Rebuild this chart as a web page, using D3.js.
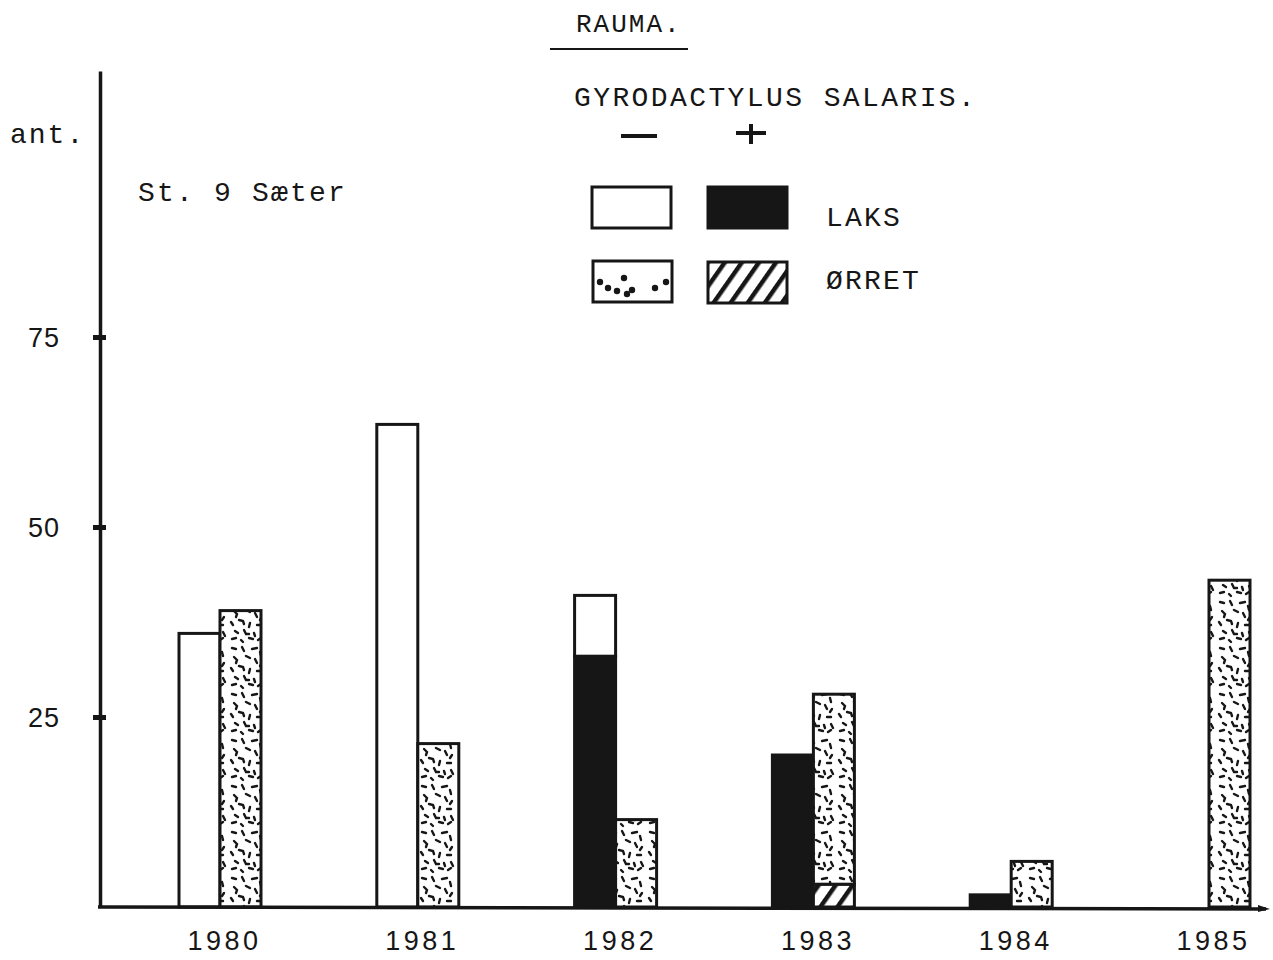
<!DOCTYPE html>
<html>
<head>
<meta charset="utf-8">
<script src="https://cdn.jsdelivr.net/npm/d3@7/dist/d3.min.js"></script>
<style>
  html, body { margin: 0; padding: 0; background: #fff; }
  svg { display: block; }
  .mono { font-family: "Liberation Mono", "DejaVu Sans Mono", monospace; fill: #161616; }
  .sans { font-family: "Liberation Sans", "DejaVu Sans", sans-serif; fill: #161616; }
</style>
</head>
<body>
<svg id="chart" width="1273" height="960"></svg>
<script>
// ---- data ----
const years = ["1980", "1981", "1982", "1983", "1984", "1985"];
const laksMinus  = [36, 63.5, 8, 0, 0, 0];     // Laks, Gyrodactylus salaris −  (white)
const laksPlus   = [0, 0, 33, 20, 1.6, 0];     // Laks, Gyrodactylus salaris +  (black)
const orretMinus = [39, 21.5, 11.5, 25, 6, 43];// Ørret, Gyrodactylus salaris − (speckled)
const orretPlus  = [0, 0, 0, 3, 0, 0];         // Ørret, Gyrodactylus salaris + (hatched)
const yTicks = [25, 50, 75];
const title = "RAUMA.";
const station = "St. 9 Sæter";
const yLabel = "ant.";
const legendTitle = "GYRODACTYLUS SALARIS.";
const legendRows = ["LAKS", "ØRRET"];

const ink = "#161616";
const svg = d3.select("#chart");

// ---- patterns ----
const defs = svg.append("defs");
const speck = defs.append("pattern").attr("id", "speck")
  .attr("patternUnits", "userSpaceOnUse").attr("width", 38).attr("height", 46);
speck.append("rect").attr("width", 38).attr("height", 46).attr("fill", "#fff");
const speckPaths = [
  "M4,4 l4,1", "M14,3 l2,4", "M24,5 l5,-1", "M32,8 l1,4",
  "M6,13 l3,3 l-1,3", "M18,12 l4,2", "M27,15 l2,4", "M34,19 l-2,3",
  "M3,24 l2,3", "M11,22 l4,1 l1,3", "M22,25 l-1,4", "M29,27 l4,0",
  "M7,33 l3,2", "M16,32 l2,4 l3,0", "M26,35 l1,3", "M33,34 l2,4",
  "M4,41 l4,-1", "M13,42 l2,2", "M21,40 l4,1", "M30,42 l3,-2"
];
speck.selectAll("path").data(speckPaths).join("path")
  .attr("d", d => d).attr("stroke", ink).attr("stroke-width", 2.4)
  .attr("stroke-linecap", "round").attr("fill", "none");

const hatch = defs.append("pattern").attr("id", "hatch")
  .attr("patternUnits", "userSpaceOnUse").attr("width", 14).attr("height", 14)
  .attr("patternTransform", "rotate(35)");
hatch.append("rect").attr("width", 14).attr("height", 14).attr("fill", "#fff");
hatch.append("line").attr("x1", 0).attr("y1", 0).attr("x2", 0).attr("y2", 14)
  .attr("stroke", ink).attr("stroke-width", 9);

const dots = defs.append("pattern").attr("id", "dots")
  .attr("patternUnits", "userSpaceOnUse").attr("width", 80).attr("height", 44);
dots.append("rect").attr("width", 80).attr("height", 44).attr("fill", "#fff");
[[15,24],[26,18],[40,18],[48,24],[64,14],[57,27],[72,26],[67,30]].forEach(([cx,cy]) =>
  dots.append("circle").attr("cx", cx).attr("cy", cy).attr("r", 3.2).attr("fill", ink));

// ---- scales ----
const y = d3.scaleLinear().domain([0, 110]).range([907, 71]);
const x0 = d3.scalePoint().domain(years).range([220, 1209]);
const xs = d3.scaleBand().domain(["laks", "orret"]).range([-41, 41]);

// ---- segments ----
const segs = [];
years.forEach((yr, i) => {
  segs.push({ yr, s: "laks", lo: 0, hi: laksPlus[i], fill: ink });
  segs.push({ yr, s: "laks", lo: laksPlus[i], hi: laksPlus[i] + laksMinus[i], fill: "#fff" });
  segs.push({ yr, s: "orret", lo: 0, hi: orretPlus[i], fill: "url(#hatch)" });
  segs.push({ yr, s: "orret", lo: orretPlus[i], hi: orretPlus[i] + orretMinus[i], fill: "url(#speck)" });
});
svg.append("g").selectAll("rect").data(segs.filter(d => d.hi > d.lo)).join("rect")
  .attr("x", d => x0(d.yr) + xs(d.s))
  .attr("width", xs.bandwidth())
  .attr("y", d => y(d.hi))
  .attr("height", d => y(d.lo) - y(d.hi))
  .attr("fill", d => d.fill)
  .attr("stroke", ink).attr("stroke-width", 3);

// ---- axes ----
const yAxis = svg.append("g").attr("transform", "translate(100,0)")
  .call(d3.axisLeft(y).tickValues(yTicks).tickSizeInner(7).tickSizeOuter(0).tickPadding(33));
yAxis.select(".domain").attr("stroke", ink).attr("stroke-width", 3.5);
yAxis.selectAll(".tick line").attr("x1", -7).attr("x2", 6).attr("stroke", ink).attr("stroke-width", 5);
yAxis.selectAll(".tick text").attr("class", "sans").style("font-size", "27px")
  .style("letter-spacing", "1px").attr("dy", "0.36em");

const xAxis = svg.append("g").attr("transform", `translate(0,${y(0)})`)
  .call(d3.axisBottom(x0).tickSize(0).tickPadding(24));
xAxis.select(".domain").remove();
xAxis.selectAll(".tick text").attr("class", "sans").style("font-size", "27px")
  .style("letter-spacing", "3.5px").attr("dx", "0.15em");
// baseline
svg.append("line").attr("x1", 98).attr("x2", 1266).attr("y1", y(0)).attr("y2", y(0) + 2)
  .attr("stroke", ink).attr("stroke-width", 3.5);
svg.append("path").attr("d", `M1258,${y(0) - 2} L1270,${y(0) + 2} L1258,${y(0) + 5} Z`).attr("fill", ink);

// ---- texts ----
svg.append("text").attr("class", "mono").attr("x", 576).attr("y", 32)
  .style("font-size", "26px").style("letter-spacing", "2px").text(title);
svg.append("line").attr("x1", 550).attr("x2", 688).attr("y1", 49).attr("y2", 49)
  .attr("stroke", ink).attr("stroke-width", 2);
svg.append("text").attr("class", "mono").attr("x", 10).attr("y", 143)
  .style("font-size", "28px").style("letter-spacing", "2px").text(yLabel);
svg.append("text").attr("class", "mono").attr("x", 138).attr("y", 201)
  .style("font-size", "28px").style("letter-spacing", "2.2px").text(station);

// ---- legend ----
const lg = svg.append("g");
lg.append("text").attr("class", "mono").attr("x", 574).attr("y", 106)
  .style("font-size", "28px").style("letter-spacing", "2.4px").text(legendTitle);
lg.append("line").attr("x1", 621).attr("x2", 657).attr("y1", 136).attr("y2", 136)
  .attr("stroke", ink).attr("stroke-width", 4);
lg.append("line").attr("x1", 736).attr("x2", 766).attr("y1", 133).attr("y2", 133)
  .attr("stroke", ink).attr("stroke-width", 4);
lg.append("line").attr("x1", 751).attr("x2", 751).attr("y1", 124).attr("y2", 144)
  .attr("stroke", ink).attr("stroke-width", 4);
const boxes = [
  { x: 592, y: 187, fill: "#fff" },
  { x: 708, y: 187, fill: ink },
  { x: 593, y: 261, fill: "url(#dots)" },
  { x: 708, y: 262, fill: "url(#hatch)" }
];
lg.selectAll("rect.box").data(boxes).join("rect").attr("class", "box")
  .attr("x", d => d.x).attr("y", d => d.y).attr("width", 79).attr("height", 41)
  .attr("fill", d => d.fill).attr("stroke", ink).attr("stroke-width", 3);
lg.selectAll("text.row").data(legendRows).join("text").attr("class", "row mono")
  .attr("x", 826).attr("y", (d, i) => 226 + i * 63)
  .style("font-size", "28px").style("letter-spacing", "2.2px").text(d => d);
</script>
</body>
</html>
